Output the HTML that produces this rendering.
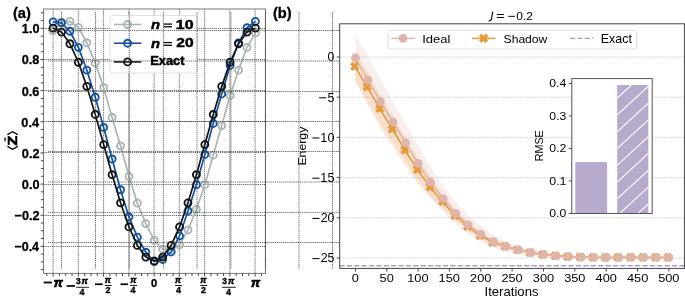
<!DOCTYPE html><html><head><meta charset="utf-8"><style>html,body{margin:0;padding:0;background:#fff;width:685px;height:303px;overflow:hidden;position:relative}</style></head><body>
<svg width="685" height="303" viewBox="0 0 685 303" style="position:absolute;left:0;top:0;will-change:transform"><path d="M53.10 9.0V273.4M78.35 9.0V273.4M103.60 9.0V273.4M128.85 9.0V273.4M154.10 9.0V273.4M179.35 9.0V273.4M204.60 9.0V273.4M229.85 9.0V273.4M255.10 9.0V273.4M43.5 246.50H265.5M43.5 215.50H265.5M43.5 184.50H265.5M43.5 152.50H265.5M43.5 121.50H265.5M43.5 90.50H265.5M43.5 59.50H265.5M43.5 28.50H265.5" stroke="#404040" stroke-width="0.75" stroke-dasharray="1.3 0.8" fill="none"/><polyline points="53.09,30.75 61.52,21.95 69.95,21.35 78.38,27.35 86.81,42.75 95.24,62.85 103.67,87.75 112.10,117.45 120.53,145.85 128.96,176.35 137.39,203.15 145.82,223.55 154.25,240.45 162.68,249.05 171.11,249.95 179.54,244.95 187.97,229.95 196.40,209.35 204.83,184.65 213.26,155.15 221.69,125.55 230.12,95.55 238.55,70.05 246.98,47.45 255.41,32.85" fill="none" stroke="#aab5b4" stroke-width="1.7" stroke-linejoin="round"/><circle cx="53.09" cy="30.75" r="3.5" fill="none" stroke="#aab5b4" stroke-width="1.85"/><circle cx="61.52" cy="21.95" r="3.5" fill="none" stroke="#aab5b4" stroke-width="1.85"/><circle cx="69.95" cy="21.35" r="3.5" fill="none" stroke="#aab5b4" stroke-width="1.85"/><circle cx="78.38" cy="27.35" r="3.5" fill="none" stroke="#aab5b4" stroke-width="1.85"/><circle cx="86.81" cy="42.75" r="3.5" fill="none" stroke="#aab5b4" stroke-width="1.85"/><circle cx="95.24" cy="62.85" r="3.5" fill="none" stroke="#aab5b4" stroke-width="1.85"/><circle cx="103.67" cy="87.75" r="3.5" fill="none" stroke="#aab5b4" stroke-width="1.85"/><circle cx="112.10" cy="117.45" r="3.5" fill="none" stroke="#aab5b4" stroke-width="1.85"/><circle cx="120.53" cy="145.85" r="3.5" fill="none" stroke="#aab5b4" stroke-width="1.85"/><circle cx="128.96" cy="176.35" r="3.5" fill="none" stroke="#aab5b4" stroke-width="1.85"/><circle cx="137.39" cy="203.15" r="3.5" fill="none" stroke="#aab5b4" stroke-width="1.85"/><circle cx="145.82" cy="223.55" r="3.5" fill="none" stroke="#aab5b4" stroke-width="1.85"/><circle cx="154.25" cy="240.45" r="3.5" fill="none" stroke="#aab5b4" stroke-width="1.85"/><circle cx="162.68" cy="249.05" r="3.5" fill="none" stroke="#aab5b4" stroke-width="1.85"/><circle cx="171.11" cy="249.95" r="3.5" fill="none" stroke="#aab5b4" stroke-width="1.85"/><circle cx="179.54" cy="244.95" r="3.5" fill="none" stroke="#aab5b4" stroke-width="1.85"/><circle cx="187.97" cy="229.95" r="3.5" fill="none" stroke="#aab5b4" stroke-width="1.85"/><circle cx="196.40" cy="209.35" r="3.5" fill="none" stroke="#aab5b4" stroke-width="1.85"/><circle cx="204.83" cy="184.65" r="3.5" fill="none" stroke="#aab5b4" stroke-width="1.85"/><circle cx="213.26" cy="155.15" r="3.5" fill="none" stroke="#aab5b4" stroke-width="1.85"/><circle cx="221.69" cy="125.55" r="3.5" fill="none" stroke="#aab5b4" stroke-width="1.85"/><circle cx="230.12" cy="95.55" r="3.5" fill="none" stroke="#aab5b4" stroke-width="1.85"/><circle cx="238.55" cy="70.05" r="3.5" fill="none" stroke="#aab5b4" stroke-width="1.85"/><circle cx="246.98" cy="47.45" r="3.5" fill="none" stroke="#aab5b4" stroke-width="1.85"/><circle cx="255.41" cy="32.85" r="3.5" fill="none" stroke="#aab5b4" stroke-width="1.85"/><polyline points="53.09,21.85 61.52,22.85 69.95,31.25 78.38,47.35 86.81,70.05 95.24,97.25 103.67,127.45 112.10,158.95 120.53,189.75 128.96,216.95 137.39,237.05 145.82,252.25 154.25,261.45 162.68,259.45 171.11,251.95 179.54,235.85 187.97,210.95 196.40,184.65 204.83,154.45 213.26,123.45 221.69,93.95 230.12,65.45 238.55,42.95 246.98,27.75 255.41,21.35" fill="none" stroke="#1553a2" stroke-width="1.7" stroke-linejoin="round"/><circle cx="53.09" cy="21.85" r="3.5" fill="none" stroke="#1553a2" stroke-width="1.85"/><circle cx="61.52" cy="22.85" r="3.5" fill="none" stroke="#1553a2" stroke-width="1.85"/><circle cx="69.95" cy="31.25" r="3.5" fill="none" stroke="#1553a2" stroke-width="1.85"/><circle cx="78.38" cy="47.35" r="3.5" fill="none" stroke="#1553a2" stroke-width="1.85"/><circle cx="86.81" cy="70.05" r="3.5" fill="none" stroke="#1553a2" stroke-width="1.85"/><circle cx="95.24" cy="97.25" r="3.5" fill="none" stroke="#1553a2" stroke-width="1.85"/><circle cx="103.67" cy="127.45" r="3.5" fill="none" stroke="#1553a2" stroke-width="1.85"/><circle cx="112.10" cy="158.95" r="3.5" fill="none" stroke="#1553a2" stroke-width="1.85"/><circle cx="120.53" cy="189.75" r="3.5" fill="none" stroke="#1553a2" stroke-width="1.85"/><circle cx="128.96" cy="216.95" r="3.5" fill="none" stroke="#1553a2" stroke-width="1.85"/><circle cx="137.39" cy="237.05" r="3.5" fill="none" stroke="#1553a2" stroke-width="1.85"/><circle cx="145.82" cy="252.25" r="3.5" fill="none" stroke="#1553a2" stroke-width="1.85"/><circle cx="154.25" cy="261.45" r="3.5" fill="none" stroke="#1553a2" stroke-width="1.85"/><circle cx="162.68" cy="259.45" r="3.5" fill="none" stroke="#1553a2" stroke-width="1.85"/><circle cx="171.11" cy="251.95" r="3.5" fill="none" stroke="#1553a2" stroke-width="1.85"/><circle cx="179.54" cy="235.85" r="3.5" fill="none" stroke="#1553a2" stroke-width="1.85"/><circle cx="187.97" cy="210.95" r="3.5" fill="none" stroke="#1553a2" stroke-width="1.85"/><circle cx="196.40" cy="184.65" r="3.5" fill="none" stroke="#1553a2" stroke-width="1.85"/><circle cx="204.83" cy="154.45" r="3.5" fill="none" stroke="#1553a2" stroke-width="1.85"/><circle cx="213.26" cy="123.45" r="3.5" fill="none" stroke="#1553a2" stroke-width="1.85"/><circle cx="221.69" cy="93.95" r="3.5" fill="none" stroke="#1553a2" stroke-width="1.85"/><circle cx="230.12" cy="65.45" r="3.5" fill="none" stroke="#1553a2" stroke-width="1.85"/><circle cx="238.55" cy="42.95" r="3.5" fill="none" stroke="#1553a2" stroke-width="1.85"/><circle cx="246.98" cy="27.75" r="3.5" fill="none" stroke="#1553a2" stroke-width="1.85"/><circle cx="255.41" cy="21.35" r="3.5" fill="none" stroke="#1553a2" stroke-width="1.85"/><polyline points="53.09,28.15 61.52,32.12 69.95,43.75 78.38,62.25 86.81,86.37 95.24,114.45 103.67,144.59 112.10,174.72 120.53,202.81 128.96,226.92 137.39,245.43 145.82,257.06 154.25,261.02 162.68,257.06 171.11,245.43 179.54,226.92 187.97,202.81 196.40,174.72 204.83,144.59 213.26,114.45 221.69,86.37 230.12,62.25 238.55,43.75 246.98,32.12 255.41,28.15" fill="none" stroke="#141414" stroke-width="1.7" stroke-linejoin="round"/><circle cx="53.09" cy="28.15" r="3.5" fill="none" stroke="#141414" stroke-width="1.85"/><circle cx="61.52" cy="32.12" r="3.5" fill="none" stroke="#141414" stroke-width="1.85"/><circle cx="69.95" cy="43.75" r="3.5" fill="none" stroke="#141414" stroke-width="1.85"/><circle cx="78.38" cy="62.25" r="3.5" fill="none" stroke="#141414" stroke-width="1.85"/><circle cx="86.81" cy="86.37" r="3.5" fill="none" stroke="#141414" stroke-width="1.85"/><circle cx="95.24" cy="114.45" r="3.5" fill="none" stroke="#141414" stroke-width="1.85"/><circle cx="103.67" cy="144.59" r="3.5" fill="none" stroke="#141414" stroke-width="1.85"/><circle cx="112.10" cy="174.72" r="3.5" fill="none" stroke="#141414" stroke-width="1.85"/><circle cx="120.53" cy="202.81" r="3.5" fill="none" stroke="#141414" stroke-width="1.85"/><circle cx="128.96" cy="226.92" r="3.5" fill="none" stroke="#141414" stroke-width="1.85"/><circle cx="137.39" cy="245.43" r="3.5" fill="none" stroke="#141414" stroke-width="1.85"/><circle cx="145.82" cy="257.06" r="3.5" fill="none" stroke="#141414" stroke-width="1.85"/><circle cx="154.25" cy="261.02" r="3.5" fill="none" stroke="#141414" stroke-width="1.85"/><circle cx="162.68" cy="257.06" r="3.5" fill="none" stroke="#141414" stroke-width="1.85"/><circle cx="171.11" cy="245.43" r="3.5" fill="none" stroke="#141414" stroke-width="1.85"/><circle cx="179.54" cy="226.92" r="3.5" fill="none" stroke="#141414" stroke-width="1.85"/><circle cx="187.97" cy="202.81" r="3.5" fill="none" stroke="#141414" stroke-width="1.85"/><circle cx="196.40" cy="174.72" r="3.5" fill="none" stroke="#141414" stroke-width="1.85"/><circle cx="204.83" cy="144.59" r="3.5" fill="none" stroke="#141414" stroke-width="1.85"/><circle cx="213.26" cy="114.45" r="3.5" fill="none" stroke="#141414" stroke-width="1.85"/><circle cx="221.69" cy="86.37" r="3.5" fill="none" stroke="#141414" stroke-width="1.85"/><circle cx="230.12" cy="62.25" r="3.5" fill="none" stroke="#141414" stroke-width="1.85"/><circle cx="238.55" cy="43.75" r="3.5" fill="none" stroke="#141414" stroke-width="1.85"/><circle cx="246.98" cy="32.12" r="3.5" fill="none" stroke="#141414" stroke-width="1.85"/><circle cx="255.41" cy="28.15" r="3.5" fill="none" stroke="#141414" stroke-width="1.85"/><rect x="43.5" y="9.0" width="222.0" height="264.4" fill="none" stroke="#7a7a7a" stroke-width="1"/><path d="M53.10 273.4v3.2M78.35 273.4v3.2M103.60 273.4v3.2M128.85 273.4v3.2M154.10 273.4v3.2M179.35 273.4v3.2M204.60 273.4v3.2M229.85 273.4v3.2M255.10 273.4v3.2M46.79 273.4v2.6M59.41 273.4v2.6M65.73 273.4v2.6M72.04 273.4v2.6M84.66 273.4v2.6M90.98 273.4v2.6M97.29 273.4v2.6M109.91 273.4v2.6M116.23 273.4v2.6M122.54 273.4v2.6M135.16 273.4v2.6M141.48 273.4v2.6M147.79 273.4v2.6M160.41 273.4v2.6M166.72 273.4v2.6M173.04 273.4v2.6M185.66 273.4v2.6M191.97 273.4v2.6M198.29 273.4v2.6M210.91 273.4v2.6M217.22 273.4v2.6M223.54 273.4v2.6M236.16 273.4v2.6M242.47 273.4v2.6M248.79 273.4v2.6M261.41 273.4v2.6M43.5 269.70h-2.6M43.5 261.92h-2.6M43.5 254.13h-2.6M43.5 246.35h-3.0M43.5 238.56h-2.6M43.5 230.78h-2.6M43.5 223.00h-2.6M43.5 215.21h-3.0M43.5 207.42h-2.6M43.5 199.64h-2.6M43.5 191.85h-2.6M43.5 184.07h-3.0M43.5 176.28h-2.6M43.5 168.50h-2.6M43.5 160.72h-2.6M43.5 152.93h-3.0M43.5 145.14h-2.6M43.5 137.36h-2.6M43.5 129.57h-2.6M43.5 121.79h-3.0M43.5 114.00h-2.6M43.5 106.22h-2.6M43.5 98.43h-2.6M43.5 90.65h-3.0M43.5 82.86h-2.6M43.5 75.08h-2.6M43.5 67.30h-2.6M43.5 59.51h-3.0M43.5 51.72h-2.6M43.5 43.94h-2.6M43.5 36.16h-2.6M43.5 28.37h-3.0M43.5 20.59h-2.6M43.5 12.80h-2.6" stroke="#333" stroke-width="0.9" fill="none"/><rect x="110" y="15.5" width="87" height="57.5" rx="2.5" fill="#fff" fill-opacity="0.92" stroke="#d8d8d8" stroke-width="0.8"/><path d="M114 24.5H141.3" stroke="#aab5b4" stroke-width="1.6"/><circle cx="127.6" cy="24.5" r="3.5" fill="none" stroke="#aab5b4" stroke-width="1.85"/><path d="M114 43.2H141.3" stroke="#1553a2" stroke-width="1.6"/><circle cx="127.6" cy="43.2" r="3.5" fill="none" stroke="#1553a2" stroke-width="1.85"/><path d="M114 61.9H141.3" stroke="#141414" stroke-width="1.6"/><circle cx="127.6" cy="61.9" r="3.5" fill="none" stroke="#141414" stroke-width="1.85"/><path d="M61.50 12V268.8M95.50 12V268.8M129.25 12V268.8M163.40 12V268.8M197.00 12V268.8M230.90 12V268.8M265.40 12V268.8M299.00 12V268.8M332.50 12V268.8M47.9 30.50H339.7M47.9 61.00H339.7M47.9 91.50H339.7M47.9 121.50H339.7M47.9 151.50H339.7M47.9 182.00H339.7M47.9 212.40H339.7M47.9 242.50H339.7" stroke="#404040" stroke-width="0.75" stroke-dasharray="1.3 0.8" fill="none"/><text transform="translate(14.50 251.22) scale(0.960 1)" font-family="Liberation Sans, sans-serif" font-size="12.96" font-weight="bold" font-style="normal" fill="#000" stroke="#000" stroke-width="0.3">−0.4</text><text transform="translate(14.49 220.08) scale(0.977 1)" font-family="Liberation Sans, sans-serif" font-size="12.96" font-weight="bold" font-style="normal" fill="#000" stroke="#000" stroke-width="0.3">−0.2</text><text transform="translate(21.82 188.94) scale(0.982 1)" font-family="Liberation Sans, sans-serif" font-size="12.96" font-weight="bold" font-style="normal" fill="#000" stroke="#000" stroke-width="0.3">0.0</text><text transform="translate(21.82 157.80) scale(0.982 1)" font-family="Liberation Sans, sans-serif" font-size="12.96" font-weight="bold" font-style="normal" fill="#000" stroke="#000" stroke-width="0.3">0.2</text><text transform="translate(21.37 126.66) scale(0.982 1)" font-family="Liberation Sans, sans-serif" font-size="12.96" font-weight="bold" font-style="normal" fill="#000" stroke="#000" stroke-width="0.3">0.4</text><text transform="translate(21.75 95.52) scale(0.982 1)" font-family="Liberation Sans, sans-serif" font-size="12.96" font-weight="bold" font-style="normal" fill="#000" stroke="#000" stroke-width="0.3">0.6</text><text transform="translate(21.69 64.38) scale(0.982 1)" font-family="Liberation Sans, sans-serif" font-size="12.96" font-weight="bold" font-style="normal" fill="#000" stroke="#000" stroke-width="0.3">0.8</text><text transform="translate(21.82 33.24) scale(0.982 1)" font-family="Liberation Sans, sans-serif" font-size="12.96" font-weight="bold" font-style="normal" fill="#000" stroke="#000" stroke-width="0.3">1.0</text><rect x="43.7" y="281.6" width="8.2" height="1.8" fill="#000"/><text x="53.80" y="286.50" font-family="Liberation Sans, sans-serif" font-weight="bold" font-style="italic" font-size="12.8" stroke="#000" stroke-width="0.70">π</text><rect x="66.6" y="285.1" width="8.3" height="1.7" fill="#000"/><text x="75.90" y="284.20" font-family="Liberation Sans, sans-serif" font-weight="bold" font-size="8.4" stroke="#000" stroke-width="0.35">3</text><text x="81.60" y="284.10" font-family="Liberation Sans, sans-serif" font-weight="bold" font-style="italic" font-size="8.9" stroke="#000" stroke-width="0.49">π</text><rect x="76.2" y="286.8" width="12.9" height="0.9" fill="#000"/><text x="79.60" y="294.90" font-family="Liberation Sans, sans-serif" font-weight="bold" font-size="8.9" stroke="#000" stroke-width="0.35">4</text><rect x="95.0" y="283.4" width="7.7" height="1.7" fill="#000"/><text x="104.70" y="282.90" font-family="Liberation Sans, sans-serif" font-weight="bold" font-style="italic" font-size="8.7" stroke="#000" stroke-width="0.48">π</text><rect x="104.8" y="285.1" width="6.8" height="0.9" fill="#000"/><text x="105.50" y="293.30" font-family="Liberation Sans, sans-serif" font-weight="bold" font-size="8.9" stroke="#000" stroke-width="0.35">2</text><rect x="120.5" y="283.4" width="7.6" height="1.7" fill="#000"/><text x="130.30" y="282.90" font-family="Liberation Sans, sans-serif" font-weight="bold" font-style="italic" font-size="8.7" stroke="#000" stroke-width="0.48">π</text><rect x="130.2" y="285.1" width="6.8" height="0.9" fill="#000"/><text x="130.60" y="293.30" font-family="Liberation Sans, sans-serif" font-weight="bold" font-size="8.9" stroke="#000" stroke-width="0.35">4</text><text x="151.00" y="286.80" font-family="Liberation Sans, sans-serif" font-weight="bold" font-size="11.1" stroke="#000" stroke-width="0.35">0</text><text x="175.10" y="282.90" font-family="Liberation Sans, sans-serif" font-weight="bold" font-style="italic" font-size="8.7" stroke="#000" stroke-width="0.48">π</text><rect x="175.2" y="285.1" width="6.8" height="0.9" fill="#000"/><text x="176.00" y="293.00" font-family="Liberation Sans, sans-serif" font-weight="bold" font-size="8.9" stroke="#000" stroke-width="0.35">4</text><text x="200.30" y="282.90" font-family="Liberation Sans, sans-serif" font-weight="bold" font-style="italic" font-size="8.7" stroke="#000" stroke-width="0.48">π</text><rect x="200.3" y="285.1" width="6.8" height="0.9" fill="#000"/><text x="201.00" y="293.00" font-family="Liberation Sans, sans-serif" font-weight="bold" font-size="8.9" stroke="#000" stroke-width="0.35">2</text><text x="222.20" y="284.20" font-family="Liberation Sans, sans-serif" font-weight="bold" font-size="8.4" stroke="#000" stroke-width="0.35">3</text><text x="228.00" y="284.10" font-family="Liberation Sans, sans-serif" font-weight="bold" font-style="italic" font-size="8.9" stroke="#000" stroke-width="0.49">π</text><rect x="222.0" y="286.8" width="13.8" height="0.9" fill="#000"/><text x="225.90" y="294.90" font-family="Liberation Sans, sans-serif" font-weight="bold" font-size="8.9" stroke="#000" stroke-width="0.35">4</text><text x="250.90" y="286.60" font-family="Liberation Sans, sans-serif" font-weight="bold" font-style="italic" font-size="12.8" stroke="#000" stroke-width="0.70">π</text><text transform="translate(12.97 17.50) scale(1.063 1)" font-family="Liberation Sans, sans-serif" font-size="13.80" font-weight="bold" font-style="normal" fill="#000" stroke="#000" stroke-width="0.3">(a)</text><text transform="translate(272.97 17.50) scale(1.063 1)" font-family="Liberation Sans, sans-serif" font-size="13.80" font-weight="bold" font-style="normal" fill="#000" stroke="#000" stroke-width="0.3">(b)</text><text transform="translate(150.98 29.20) scale(1.093 1)" font-family="Liberation Sans, sans-serif" font-size="13.52" font-weight="bold" font-style="italic" fill="#000" stroke="#000" stroke-width="0.5">n</text><rect x="163.6" y="23.45" width="8.4" height="1.25" fill="#000"/><rect x="163.6" y="26.15" width="8.4" height="1.25" fill="#000"/><text transform="translate(175.84 28.87) scale(1.258 1)" font-family="Liberation Sans, sans-serif" font-size="12.68" font-weight="bold" font-style="normal" fill="#000" stroke="#000" stroke-width="0.45">10</text><text transform="translate(150.98 47.70) scale(1.093 1)" font-family="Liberation Sans, sans-serif" font-size="13.52" font-weight="bold" font-style="italic" fill="#000" stroke="#000" stroke-width="0.5">n</text><rect x="163.6" y="41.95" width="8.4" height="1.25" fill="#000"/><rect x="163.6" y="44.65" width="8.4" height="1.25" fill="#000"/><text transform="translate(176.26 47.37) scale(1.227 1)" font-family="Liberation Sans, sans-serif" font-size="12.68" font-weight="bold" font-style="normal" fill="#000" stroke="#000" stroke-width="0.45">20</text><text transform="translate(150.16 65.18) scale(1.059 1)" font-family="Liberation Sans, sans-serif" font-size="12.14" font-weight="bold" font-style="normal" fill="#000" stroke="#000" stroke-width="0.45">Exact</text><path d="M7.4 134.6L12.6 131.7L17.8 134.6M7.4 146.4L12.6 149.3L17.8 146.4" stroke="#000" stroke-width="1.3" fill="none"/><text transform="translate(16.50 145.38) rotate(-90) scale(1.258 1)" font-family="Liberation Sans, sans-serif" font-size="12.61" font-weight="bold" fill="#000" stroke="#000" stroke-width="0.6">Z</text><path d="M5 137.5V141.2" stroke="#000" stroke-width="1.3"/></svg><svg width="685" height="303" viewBox="0 0 685 303" style="position:absolute;left:0;top:0;will-change:transform"><rect x="339.7" y="23.8" width="344.7" height="244.59999999999997" fill="#fff"/><path d="M339.7 57.00H684.4M339.7 97.20H684.4M339.7 137.40H684.4M339.7 177.60H684.4M339.7 217.80H684.4M339.7 258.00H684.4" stroke="#cfcfcf" stroke-width="0.9" stroke-dasharray="2 1" fill="none"/><polygon points="355.40,34.50 367.94,56.80 380.48,78.80 393.01,101.40 405.55,123.80 418.09,145.90 430.63,166.70 443.17,185.50 455.70,202.40 468.24,215.30 480.78,225.90 493.32,235.10 505.86,241.30 518.39,245.90 530.93,249.40 543.47,252.00 556.01,253.80 568.55,254.90 581.08,255.60 593.62,255.90 606.16,255.90 618.70,255.90 631.24,255.90 643.77,255.90 656.31,255.90 668.85,255.90 668.85,258.90 656.31,258.90 643.77,258.90 631.24,258.90 618.70,258.90 606.16,258.90 593.62,258.90 581.08,258.60 568.55,258.30 556.01,257.80 543.47,257.00 530.93,255.80 518.39,253.90 505.86,251.30 493.32,248.10 480.78,242.10 468.24,234.30 455.70,224.20 443.17,211.50 430.63,197.70 418.09,180.70 405.55,161.80 393.01,142.40 380.48,124.20 367.94,102.80 355.40,81.30" fill="#dfb4ab" fill-opacity="0.22"/><polygon points="355.40,50.80 367.94,72.40 380.48,95.20 393.01,116.00 405.55,137.50 418.09,157.50 430.63,176.20 443.17,194.00 455.70,210.50 468.24,222.50 480.78,232.10 493.32,239.50 505.86,243.80 518.39,247.70 530.93,250.60 543.47,252.70 556.01,254.20 568.55,255.10 581.08,255.70 593.62,256.00 606.16,256.00 618.70,256.00 631.24,256.00 643.77,256.00 656.31,256.00 668.85,256.00 668.85,258.80 656.31,258.80 643.77,258.80 631.24,258.80 618.70,258.80 606.16,258.80 593.62,258.80 581.08,258.50 568.55,258.10 556.01,257.40 543.47,256.30 530.93,254.60 518.39,252.10 505.86,248.80 493.32,245.50 480.78,238.90 468.24,230.50 455.70,220.50 443.17,209.00 430.63,197.80 418.09,183.80 405.55,166.50 393.01,147.50 380.48,128.40 367.94,104.50 355.40,81.30" fill="#efb070" fill-opacity="0.25"/><polyline points="354.70,66.30 367.24,86.90 379.78,108.60 392.31,129.00 404.85,150.00 417.39,169.50 429.93,187.00 442.47,201.50 455.00,215.50 467.54,226.50 480.08,235.50 492.62,242.50 505.16,246.30 517.69,249.90 530.23,252.60 542.77,254.50 555.31,255.80 567.85,256.60 580.38,257.10 592.92,257.40 605.46,257.40 618.00,257.40 630.54,257.40 643.07,257.40 655.61,257.40 668.15,257.40" fill="none" stroke="#e69a3a" stroke-width="1.5"/><polygon points="352.60,62.10 354.70,64.20 356.80,62.10 358.90,64.20 356.80,66.30 358.90,68.40 356.80,70.50 354.70,68.40 352.60,70.50 350.50,68.40 352.60,66.30 350.50,64.20" fill="#e69a3a" stroke="#e69a3a" stroke-width="0.9" stroke-linejoin="miter"/><polygon points="365.14,82.70 367.24,84.80 369.34,82.70 371.44,84.80 369.34,86.90 371.44,89.00 369.34,91.10 367.24,89.00 365.14,91.10 363.04,89.00 365.14,86.90 363.04,84.80" fill="#e69a3a" stroke="#e69a3a" stroke-width="0.9" stroke-linejoin="miter"/><polygon points="377.68,104.40 379.78,106.50 381.88,104.40 383.98,106.50 381.88,108.60 383.98,110.70 381.88,112.80 379.78,110.70 377.68,112.80 375.58,110.70 377.68,108.60 375.58,106.50" fill="#e69a3a" stroke="#e69a3a" stroke-width="0.9" stroke-linejoin="miter"/><polygon points="390.21,124.80 392.31,126.90 394.41,124.80 396.51,126.90 394.41,129.00 396.51,131.10 394.41,133.20 392.31,131.10 390.21,133.20 388.11,131.10 390.21,129.00 388.11,126.90" fill="#e69a3a" stroke="#e69a3a" stroke-width="0.9" stroke-linejoin="miter"/><polygon points="402.75,145.80 404.85,147.90 406.95,145.80 409.05,147.90 406.95,150.00 409.05,152.10 406.95,154.20 404.85,152.10 402.75,154.20 400.65,152.10 402.75,150.00 400.65,147.90" fill="#e69a3a" stroke="#e69a3a" stroke-width="0.9" stroke-linejoin="miter"/><polygon points="415.29,165.30 417.39,167.40 419.49,165.30 421.59,167.40 419.49,169.50 421.59,171.60 419.49,173.70 417.39,171.60 415.29,173.70 413.19,171.60 415.29,169.50 413.19,167.40" fill="#e69a3a" stroke="#e69a3a" stroke-width="0.9" stroke-linejoin="miter"/><polygon points="427.83,182.80 429.93,184.90 432.03,182.80 434.13,184.90 432.03,187.00 434.13,189.10 432.03,191.20 429.93,189.10 427.83,191.20 425.73,189.10 427.83,187.00 425.73,184.90" fill="#e69a3a" stroke="#e69a3a" stroke-width="0.9" stroke-linejoin="miter"/><polygon points="440.37,197.30 442.47,199.40 444.57,197.30 446.67,199.40 444.57,201.50 446.67,203.60 444.57,205.70 442.47,203.60 440.37,205.70 438.27,203.60 440.37,201.50 438.27,199.40" fill="#e69a3a" stroke="#e69a3a" stroke-width="0.9" stroke-linejoin="miter"/><polygon points="452.90,211.30 455.00,213.40 457.10,211.30 459.20,213.40 457.10,215.50 459.20,217.60 457.10,219.70 455.00,217.60 452.90,219.70 450.80,217.60 452.90,215.50 450.80,213.40" fill="#e69a3a" stroke="#e69a3a" stroke-width="0.9" stroke-linejoin="miter"/><polygon points="465.44,222.30 467.54,224.40 469.64,222.30 471.74,224.40 469.64,226.50 471.74,228.60 469.64,230.70 467.54,228.60 465.44,230.70 463.34,228.60 465.44,226.50 463.34,224.40" fill="#e69a3a" stroke="#e69a3a" stroke-width="0.9" stroke-linejoin="miter"/><polygon points="477.98,231.30 480.08,233.40 482.18,231.30 484.28,233.40 482.18,235.50 484.28,237.60 482.18,239.70 480.08,237.60 477.98,239.70 475.88,237.60 477.98,235.50 475.88,233.40" fill="#e69a3a" stroke="#e69a3a" stroke-width="0.9" stroke-linejoin="miter"/><polygon points="490.52,238.30 492.62,240.40 494.72,238.30 496.82,240.40 494.72,242.50 496.82,244.60 494.72,246.70 492.62,244.60 490.52,246.70 488.42,244.60 490.52,242.50 488.42,240.40" fill="#e69a3a" stroke="#e69a3a" stroke-width="0.9" stroke-linejoin="miter"/><polygon points="503.06,242.10 505.16,244.20 507.26,242.10 509.36,244.20 507.26,246.30 509.36,248.40 507.26,250.50 505.16,248.40 503.06,250.50 500.96,248.40 503.06,246.30 500.96,244.20" fill="#e69a3a" stroke="#e69a3a" stroke-width="0.9" stroke-linejoin="miter"/><polygon points="515.59,245.70 517.69,247.80 519.79,245.70 521.89,247.80 519.79,249.90 521.89,252.00 519.79,254.10 517.69,252.00 515.59,254.10 513.49,252.00 515.59,249.90 513.49,247.80" fill="#e69a3a" stroke="#e69a3a" stroke-width="0.9" stroke-linejoin="miter"/><polygon points="528.13,248.40 530.23,250.50 532.33,248.40 534.43,250.50 532.33,252.60 534.43,254.70 532.33,256.80 530.23,254.70 528.13,256.80 526.03,254.70 528.13,252.60 526.03,250.50" fill="#e69a3a" stroke="#e69a3a" stroke-width="0.9" stroke-linejoin="miter"/><polygon points="540.67,250.30 542.77,252.40 544.87,250.30 546.97,252.40 544.87,254.50 546.97,256.60 544.87,258.70 542.77,256.60 540.67,258.70 538.57,256.60 540.67,254.50 538.57,252.40" fill="#e69a3a" stroke="#e69a3a" stroke-width="0.9" stroke-linejoin="miter"/><polygon points="553.21,251.60 555.31,253.70 557.41,251.60 559.51,253.70 557.41,255.80 559.51,257.90 557.41,260.00 555.31,257.90 553.21,260.00 551.11,257.90 553.21,255.80 551.11,253.70" fill="#e69a3a" stroke="#e69a3a" stroke-width="0.9" stroke-linejoin="miter"/><polygon points="565.75,252.40 567.85,254.50 569.95,252.40 572.05,254.50 569.95,256.60 572.05,258.70 569.95,260.80 567.85,258.70 565.75,260.80 563.65,258.70 565.75,256.60 563.65,254.50" fill="#e69a3a" stroke="#e69a3a" stroke-width="0.9" stroke-linejoin="miter"/><polygon points="578.28,252.90 580.38,255.00 582.48,252.90 584.58,255.00 582.48,257.10 584.58,259.20 582.48,261.30 580.38,259.20 578.28,261.30 576.18,259.20 578.28,257.10 576.18,255.00" fill="#e69a3a" stroke="#e69a3a" stroke-width="0.9" stroke-linejoin="miter"/><polygon points="590.82,253.20 592.92,255.30 595.02,253.20 597.12,255.30 595.02,257.40 597.12,259.50 595.02,261.60 592.92,259.50 590.82,261.60 588.72,259.50 590.82,257.40 588.72,255.30" fill="#e69a3a" stroke="#e69a3a" stroke-width="0.9" stroke-linejoin="miter"/><polygon points="603.36,253.20 605.46,255.30 607.56,253.20 609.66,255.30 607.56,257.40 609.66,259.50 607.56,261.60 605.46,259.50 603.36,261.60 601.26,259.50 603.36,257.40 601.26,255.30" fill="#e69a3a" stroke="#e69a3a" stroke-width="0.9" stroke-linejoin="miter"/><polygon points="615.90,253.20 618.00,255.30 620.10,253.20 622.20,255.30 620.10,257.40 622.20,259.50 620.10,261.60 618.00,259.50 615.90,261.60 613.80,259.50 615.90,257.40 613.80,255.30" fill="#e69a3a" stroke="#e69a3a" stroke-width="0.9" stroke-linejoin="miter"/><polygon points="628.44,253.20 630.54,255.30 632.64,253.20 634.74,255.30 632.64,257.40 634.74,259.50 632.64,261.60 630.54,259.50 628.44,261.60 626.34,259.50 628.44,257.40 626.34,255.30" fill="#e69a3a" stroke="#e69a3a" stroke-width="0.9" stroke-linejoin="miter"/><polygon points="640.97,253.20 643.07,255.30 645.17,253.20 647.27,255.30 645.17,257.40 647.27,259.50 645.17,261.60 643.07,259.50 640.97,261.60 638.87,259.50 640.97,257.40 638.87,255.30" fill="#e69a3a" stroke="#e69a3a" stroke-width="0.9" stroke-linejoin="miter"/><polygon points="653.51,253.20 655.61,255.30 657.71,253.20 659.81,255.30 657.71,257.40 659.81,259.50 657.71,261.60 655.61,259.50 653.51,261.60 651.41,259.50 653.51,257.40 651.41,255.30" fill="#e69a3a" stroke="#e69a3a" stroke-width="0.9" stroke-linejoin="miter"/><polygon points="666.05,253.20 668.15,255.30 670.25,253.20 672.35,255.30 670.25,257.40 672.35,259.50 670.25,261.60 668.15,259.50 666.05,261.60 663.95,259.50 666.05,257.40 663.95,255.30" fill="#e69a3a" stroke="#e69a3a" stroke-width="0.9" stroke-linejoin="miter"/><polyline points="355.40,57.90 367.94,79.80 380.48,101.50 393.01,121.90 405.55,142.80 418.09,163.30 430.63,182.20 443.17,198.50 455.70,213.30 468.24,224.80 480.78,234.00 493.32,241.60 505.86,246.30 518.39,249.90 530.93,252.60 543.47,254.50 556.01,255.80 568.55,256.60 581.08,257.10 593.62,257.40 606.16,257.40 618.70,257.40 631.24,257.40 643.77,257.40 656.31,257.40 668.85,257.40" fill="none" stroke="#dfb4ab" stroke-width="1.5"/><circle cx="355.40" cy="57.90" r="4.35" fill="#dfb4ab"/><circle cx="367.94" cy="79.80" r="4.35" fill="#dfb4ab"/><circle cx="380.48" cy="101.50" r="4.35" fill="#dfb4ab"/><circle cx="393.01" cy="121.90" r="4.35" fill="#dfb4ab"/><circle cx="405.55" cy="142.80" r="4.35" fill="#dfb4ab"/><circle cx="418.09" cy="163.30" r="4.35" fill="#dfb4ab"/><circle cx="430.63" cy="182.20" r="4.35" fill="#dfb4ab"/><circle cx="443.17" cy="198.50" r="4.35" fill="#dfb4ab"/><circle cx="455.70" cy="213.30" r="4.35" fill="#dfb4ab"/><circle cx="468.24" cy="224.80" r="4.35" fill="#dfb4ab"/><circle cx="480.78" cy="234.00" r="4.35" fill="#dfb4ab"/><circle cx="493.32" cy="241.60" r="4.35" fill="#dfb4ab"/><circle cx="505.86" cy="246.30" r="4.35" fill="#dfb4ab"/><circle cx="518.39" cy="249.90" r="4.35" fill="#dfb4ab"/><circle cx="530.93" cy="252.60" r="4.35" fill="#dfb4ab"/><circle cx="543.47" cy="254.50" r="4.35" fill="#dfb4ab"/><circle cx="556.01" cy="255.80" r="4.35" fill="#dfb4ab"/><circle cx="568.55" cy="256.60" r="4.35" fill="#dfb4ab"/><circle cx="581.08" cy="257.10" r="4.35" fill="#dfb4ab"/><circle cx="593.62" cy="257.40" r="4.35" fill="#dfb4ab"/><circle cx="606.16" cy="257.40" r="4.35" fill="#dfb4ab"/><circle cx="618.70" cy="257.40" r="4.35" fill="#dfb4ab"/><circle cx="631.24" cy="257.40" r="4.35" fill="#dfb4ab"/><circle cx="643.77" cy="257.40" r="4.35" fill="#dfb4ab"/><circle cx="656.31" cy="257.40" r="4.35" fill="#dfb4ab"/><circle cx="668.85" cy="257.40" r="4.35" fill="#dfb4ab"/><path d="M339.4 265.8H684.4" stroke="#ab9dcb" stroke-width="1.5" stroke-dasharray="5.2 2.19"/><rect x="339.7" y="23.8" width="344.7" height="244.59999999999997" fill="none" stroke="#3c3c3c" stroke-width="0.95"/><path d="M339.7 57.00h-3M339.7 97.20h-3M339.7 137.40h-3M339.7 177.60h-3M339.7 217.80h-3M339.7 258.00h-3M355.40 268.4v3.2M386.75 268.4v3.2M418.09 268.4v3.2M449.43 268.4v3.2M480.78 268.4v3.2M512.12 268.4v3.2M543.47 268.4v3.2M574.81 268.4v3.2M606.16 268.4v3.2M637.50 268.4v3.2M668.85 268.4v3.2" stroke="#333" stroke-width="0.9"/><text transform="translate(327.61 61.38) scale(1.015 1)" font-family="Liberation Sans, sans-serif" font-size="12.11" font-weight="normal" font-style="normal" fill="#000">0</text><text transform="translate(327.60 101.58) scale(1.011 1)" font-family="Liberation Sans, sans-serif" font-size="12.29" font-weight="normal" font-style="normal" fill="#000">5</text><rect x="319.10" y="97.30" width="7.2" height="1.0" fill="#000"/><text transform="translate(320.35 141.78) scale(1.048 1)" font-family="Liberation Sans, sans-serif" font-size="12.11" font-weight="normal" font-style="normal" fill="#000">10</text><rect x="312.30" y="137.50" width="7.2" height="1.0" fill="#000"/><text transform="translate(320.34 181.98) scale(1.039 1)" font-family="Liberation Sans, sans-serif" font-size="12.29" font-weight="normal" font-style="normal" fill="#000">15</text><rect x="312.30" y="177.70" width="7.2" height="1.0" fill="#000"/><text transform="translate(320.68 222.18) scale(1.023 1)" font-family="Liberation Sans, sans-serif" font-size="12.11" font-weight="normal" font-style="normal" fill="#000">20</text><rect x="312.30" y="217.90" width="7.2" height="1.0" fill="#000"/><text transform="translate(320.68 262.38) scale(1.028 1)" font-family="Liberation Sans, sans-serif" font-size="12.11" font-weight="normal" font-style="normal" fill="#000">25</text><rect x="312.30" y="258.10" width="7.2" height="1.0" fill="#000"/><text transform="translate(351.82 282.48) scale(1.080 1)" font-family="Liberation Sans, sans-serif" font-size="11.83" font-weight="normal" font-style="normal" fill="#000">0</text><text transform="translate(379.62 282.48) scale(1.080 1)" font-family="Liberation Sans, sans-serif" font-size="11.83" font-weight="normal" font-style="normal" fill="#000">50</text><text transform="translate(407.20 282.48) scale(1.080 1)" font-family="Liberation Sans, sans-serif" font-size="11.83" font-weight="normal" font-style="normal" fill="#000">100</text><text transform="translate(438.54 282.48) scale(1.080 1)" font-family="Liberation Sans, sans-serif" font-size="11.83" font-weight="normal" font-style="normal" fill="#000">150</text><text transform="translate(470.05 282.48) scale(1.080 1)" font-family="Liberation Sans, sans-serif" font-size="11.83" font-weight="normal" font-style="normal" fill="#000">200</text><text transform="translate(501.39 282.48) scale(1.080 1)" font-family="Liberation Sans, sans-serif" font-size="11.83" font-weight="normal" font-style="normal" fill="#000">250</text><text transform="translate(532.80 282.48) scale(1.080 1)" font-family="Liberation Sans, sans-serif" font-size="11.83" font-weight="normal" font-style="normal" fill="#000">300</text><text transform="translate(564.15 282.48) scale(1.080 1)" font-family="Liberation Sans, sans-serif" font-size="11.83" font-weight="normal" font-style="normal" fill="#000">350</text><text transform="translate(595.62 282.48) scale(1.080 1)" font-family="Liberation Sans, sans-serif" font-size="11.83" font-weight="normal" font-style="normal" fill="#000">400</text><text transform="translate(626.96 282.48) scale(1.080 1)" font-family="Liberation Sans, sans-serif" font-size="11.83" font-weight="normal" font-style="normal" fill="#000">450</text><text transform="translate(658.18 282.48) scale(1.080 1)" font-family="Liberation Sans, sans-serif" font-size="11.83" font-weight="normal" font-style="normal" fill="#000">500</text><text transform="translate(484.52 295.67) scale(1.027 1)" font-family="Liberation Sans, sans-serif" font-size="12.79" font-weight="normal" font-style="normal" fill="#000">Iterations</text><text transform="translate(306.20 165.58) rotate(-90) scale(1.117 1)" font-family="Liberation Sans, sans-serif" font-size="11.01" font-weight="normal" fill="#000">Energy</text><path d="M492.7 11.7L491.45 19.0Q491.0 21.0 488.5 21.0" stroke="#000" stroke-width="1.15" fill="none"/><text transform="translate(495.95 19.58) scale(1.482 1)" font-family="Liberation Sans, sans-serif" font-size="10.15" font-weight="normal" font-style="normal" fill="#000">=</text><rect x="508.4" y="15.85" width="6.5" height="0.95" fill="#000"/><text transform="translate(516.32 19.59) scale(1.106 1)" font-family="Liberation Sans, sans-serif" font-size="10.85" font-weight="normal" font-style="normal" fill="#000">0.2</text><rect x="388" y="30.2" width="248.6" height="18.8" rx="2.5" fill="#fff" fill-opacity="0.8" stroke="#d8d8d8" stroke-width="0.8"/><path d="M391.2 38.4H414.8" stroke="#dfb4ab" stroke-width="1.5"/><circle cx="403" cy="38.3" r="4.35" fill="#dfb4ab"/><text transform="translate(422.23 42.68) scale(1.110 1)" font-family="Liberation Sans, sans-serif" font-size="11.70" font-weight="normal" font-style="normal" fill="#000">Ideal</text><path d="M472 38.4H495.5" stroke="#e69a3a" stroke-width="1.5"/><polygon points="481.50,34.10 483.60,36.20 485.70,34.10 487.80,36.20 485.70,38.30 487.80,40.40 485.70,42.50 483.60,40.40 481.50,42.50 479.40,40.40 481.50,38.30 479.40,36.20" fill="#e69a3a" stroke="#e69a3a" stroke-width="0.9" stroke-linejoin="miter"/><text transform="translate(503.55 42.68) scale(1.037 1)" font-family="Liberation Sans, sans-serif" font-size="11.70" font-weight="normal" font-style="normal" fill="#000">Shadow</text><path d="M569.9 38.4H593" stroke="#ab9dcb" stroke-width="1.3" stroke-dasharray="5.3 2"/><text transform="translate(600.80 42.68) scale(1.014 1)" font-family="Liberation Sans, sans-serif" font-size="12.29" font-weight="normal" font-style="normal" fill="#000">Exact</text><rect x="571.8" y="78.6" width="80.40000000000009" height="134.8" fill="#fff"/><rect x="575.3" y="162.05" width="31.8" height="51.35" fill="#b8aacd"/><rect x="617.2" y="85.03" width="31.1" height="128.38" fill="#b8aacd"/><clipPath id="hc"><rect x="617.2" y="85.03" width="31.1" height="128.38"/></clipPath><path d="M616.2 65.42l33.2 -30.54M616.2 82.22l33.2 -30.54M616.2 99.02l33.2 -30.54M616.2 115.82l33.2 -30.54M616.2 132.62l33.2 -30.54M616.2 149.42l33.2 -30.54M616.2 166.22l33.2 -30.54M616.2 183.02l33.2 -30.54M616.2 199.82l33.2 -30.54M616.2 216.62l33.2 -30.54M616.2 233.42l33.2 -30.54" stroke="#fff" stroke-width="1.1" clip-path="url(#hc)"/><rect x="571.8" y="78.6" width="80.40000000000009" height="134.8" fill="none" stroke="#4a4a4a" stroke-width="0.95"/><path d="M571.8 213.40h-3M571.8 180.90h-3M571.8 148.40h-3M571.8 115.90h-3M571.8 83.40h-3" stroke="#333" stroke-width="0.9"/><text transform="translate(549.31 217.15) scale(1.224 1)" font-family="Liberation Sans, sans-serif" font-size="10.00" font-weight="normal" font-style="normal" fill="#000">0.0</text><text transform="translate(549.31 184.65) scale(1.234 1)" font-family="Liberation Sans, sans-serif" font-size="10.00" font-weight="normal" font-style="normal" fill="#000">0.1</text><text transform="translate(549.30 152.15) scale(1.238 1)" font-family="Liberation Sans, sans-serif" font-size="10.00" font-weight="normal" font-style="normal" fill="#000">0.2</text><text transform="translate(549.31 119.65) scale(1.229 1)" font-family="Liberation Sans, sans-serif" font-size="10.00" font-weight="normal" font-style="normal" fill="#000">0.3</text><text transform="translate(549.31 87.15) scale(1.220 1)" font-family="Liberation Sans, sans-serif" font-size="10.00" font-weight="normal" font-style="normal" fill="#000">0.4</text><text transform="translate(543.20 161.26) rotate(-90) scale(1.016 1)" font-family="Liberation Sans, sans-serif" font-size="10.57" font-weight="normal" fill="#000">RMSE</text></svg>
</body></html>
